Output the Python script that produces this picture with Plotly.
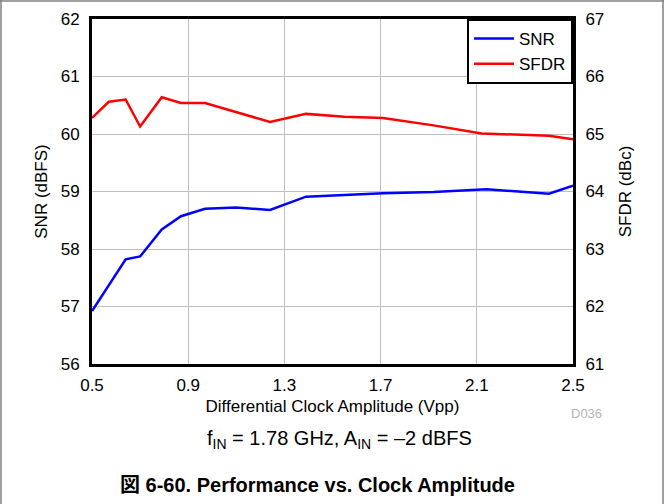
import plotly.graph_objects as go

# Data
sfdr_x = [0.5, 0.57, 0.64, 0.70, 0.79, 0.87, 0.97, 1.10, 1.24, 1.39, 1.55, 1.71, 1.92, 2.12, 2.40, 2.5]
sfdr_y = [65.28, 65.56, 65.60, 65.13, 65.64, 65.54, 65.54, 65.38, 65.21, 65.35, 65.30, 65.28, 65.15, 65.01, 64.97, 64.91]

snr_x = [0.5, 0.64, 0.70, 0.79, 0.87, 0.97, 1.10, 1.24, 1.39, 1.55, 1.71, 1.92, 2.14, 2.40, 2.5]
snr_y = [56.92, 57.82, 57.87, 58.34, 58.57, 58.70, 58.72, 58.68, 58.91, 58.94, 58.97, 58.99, 59.04, 58.96, 59.10]

x_ticks = [0.5, 0.9, 1.3, 1.7, 2.1, 2.5]
snr_ticks = [56, 57, 58, 59, 60, 61, 62]
sfdr_ticks = [61, 62, 63, 64, 65, 66, 67]

FONT = "Liberation Sans, Arial, Noto Sans CJK JP, sans-serif"

fig = go.Figure()
fig.add_trace(go.Scatter(x=snr_x, y=snr_y, mode="lines", name="SNR",
                         line=dict(color="#0000ff", width=2.5)))
fig.add_trace(go.Scatter(x=sfdr_x, y=sfdr_y, mode="lines", name="SFDR",
                         line=dict(color="#ff0000", width=2.5), yaxis="y2"))

fig.update_layout(
    width=664, height=504,
    margin=dict(l=92, r=91, t=19, b=140, autoexpand=False),
    paper_bgcolor="white", plot_bgcolor="white",
    font=dict(family=FONT, size=17, color="black"),
    showlegend=True,
    legend=dict(x=1, y=1, xanchor="right", yanchor="top",
                bordercolor="black", borderwidth=2, bgcolor="white",
                font=dict(size=17), itemwidth=40, traceorder="normal"),
    xaxis=dict(range=[0.5, 2.5], tickvals=x_ticks, ticktext=[str(v) for v in x_ticks],
               showgrid=True, gridcolor="#c0c0c0", gridwidth=1,
               showline=True, linecolor="black", linewidth=3, mirror=True,
               ticks="outside", ticklen=4, tickcolor="rgba(0,0,0,0)", zeroline=False,
               title=dict(text="Differential Clock Amplitude (Vpp)", font=dict(size=17), standoff=6)),
    yaxis=dict(range=[56, 62], tickvals=snr_ticks,
               showgrid=True, gridcolor="#c0c0c0", gridwidth=1,
               showline=True, linecolor="black", linewidth=3, mirror=True,
               ticks="outside", ticklen=6, tickcolor="rgba(0,0,0,0)", zeroline=False,
               title=dict(text="SNR (dBFS)", font=dict(size=17), standoff=9)),
    yaxis2=dict(range=[61, 67], tickvals=sfdr_ticks, overlaying="y", side="right",
                showgrid=False, showline=True, linecolor="black", linewidth=3,
                ticks="outside", ticklen=6, tickcolor="rgba(0,0,0,0)", zeroline=False,
                title=dict(text="SFDR (dBc)", font=dict(size=17), standoff=16)),
)

fig.add_annotation(text="D036", xref="paper", yref="paper", x=(586 - 92) / 481, y=-(413 - 364) / 345,
                   showarrow=False, font=dict(size=13, color="#b4b4b4"), xanchor="center", yanchor="middle")
fig.add_annotation(text="f<sub>IN</sub> = 1.78 GHz, A<sub>IN</sub> = \u20132 dBFS", xref="paper", yref="paper",
                   x=(339 - 92) / 481, y=-(440 - 364) / 345, showarrow=False,
                   font=dict(size=20), xanchor="center", yanchor="middle")
fig.add_annotation(text="<b>図 6-60. Performance vs. Clock Amplitude</b>", xref="paper", yref="paper",
                   x=(317 - 92) / 481, y=-(485 - 364) / 345, showarrow=False,
                   font=dict(size=20), xanchor="center", yanchor="middle")

# outer gray frame lines (top, left, right)
px = lambda p: (p - 92) / 481
py = lambda p: (364 - p) / 345
fig.add_shape(type="line", xref="paper", yref="paper", x0=px(0), x1=px(664), y0=py(1), y1=py(1),
              line=dict(color="#808080", width=1.5))
fig.add_shape(type="line", xref="paper", yref="paper", x0=px(1), x1=px(1), y0=py(0), y1=py(504),
              line=dict(color="#808080", width=1.5))
fig.add_shape(type="line", xref="paper", yref="paper", x0=px(663), x1=px(663), y0=py(0), y1=py(504),
              line=dict(color="#808080", width=1.5))

fig.write_html("out.html", config={"displayModeBar": False},
               post_script="document.body.style.margin='0';")
